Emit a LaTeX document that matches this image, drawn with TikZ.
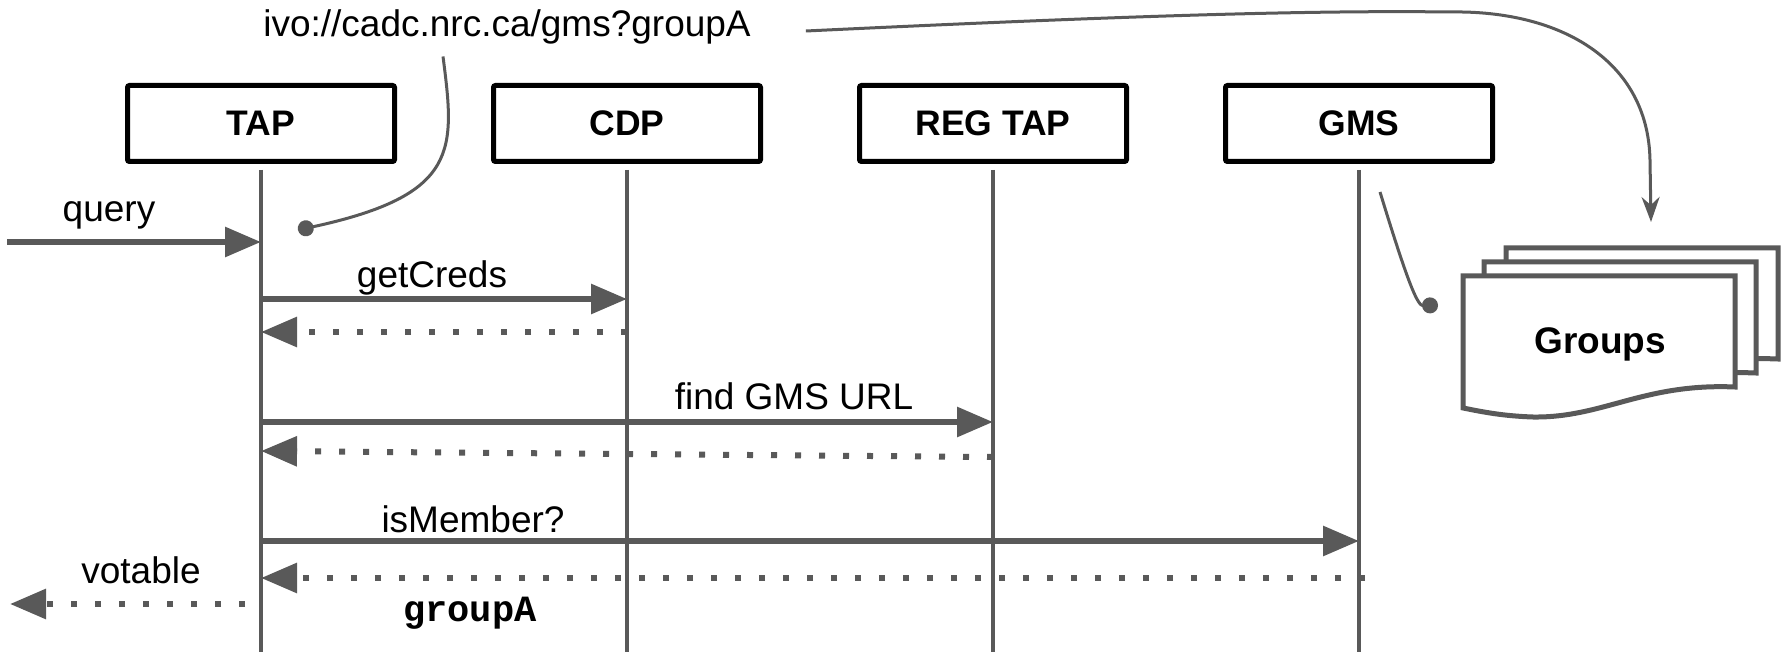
\documentclass[tikz,border=0pt]{standalone}
\usepackage{fontspec}
\setmainfont{Liberation Sans}
\setmonofont{Liberation Mono}
\usepackage{tikz}
\usetikzlibrary{arrows.meta,positioning,calc}
\definecolor{linegray}{HTML}{595959}
\tikzset{
         actor/.style={draw=black,line width=5pt,rounded corners=2pt,
                       minimum width=267pt,minimum height=76pt,
                       font=\fontsize{35.5}{40}\selectfont\bfseries},
         lifeline/.style={draw=linegray,line width=4.5pt},
         msg/.style={draw=linegray,line width=6pt,-{Triangle[length=36pt,width=29pt]}},
         reply/.style={draw=linegray,line width=6pt,dash pattern=on 6pt off 18pt,
                       -{Triangle[length=36pt,width=29pt]}},
         pinline/.style={draw=linegray,line width=3pt,-{Circle[length=16pt]}},
         bigarc/.style={draw=linegray,line width=3pt,-{Stealth[length=25pt,width=18pt]}},
         lbl/.style={font=\fontsize{37}{42}\selectfont,inner sep=0pt},
         docline/.style={draw=linegray,fill=white,line width=5pt},
         groupdoc/.pic={
          \draw[docline] (0,0) -- (272,0) -- (272,111)
             .. controls (180,107) and (140,142) .. (70,141)
             .. controls (40,140) and (20,136) .. (0,132) -- cycle;
         }
        }
\begin{document}
\begin{tikzpicture}[x=1pt,y=-1pt]
\useasboundingbox (0,0) rectangle (1783,652);

%actors along the top
\node[actor] (tap) at (261,123.5) {TAP};
\node[actor,right=94pt of tap] (cdp) {CDP};
\node[actor,right=94pt of cdp] (regtap) {REG TAP};
\node[actor,right=94pt of regtap] (gms) {GMS};

%lifelines run to the bottom edge
\coordinate (bottom) at (0,652);
\foreach \a in {tap,cdp,regtap,gms}
  \draw[lifeline] ([yshift=-6pt]\a.south) -- (\a |- bottom); %lifeline

%message rows
\coordinate (qrow) at (0,242);
\coordinate (credrow) at (0,299);
\coordinate (credback) at (0,332);
\coordinate (findrow) at (0,422);
\coordinate (findbackl) at (0,451);
\coordinate (findbackr) at (0,457);
\coordinate (memrow) at (0,541);
\coordinate (memback) at (0,578);
\coordinate (vrow) at (0,604);

\coordinate (qin) at (7,242); %query comes in
\coordinate (vout) at (10,604); %votable goes out
\draw[msg] (qin) -- (tap |- qrow); %query
\draw[msg] (tap |- credrow) -- (cdp |- credrow); %getCreds
\draw[reply] (cdp |- credback) -- (tap |- credback); %creds back
\draw[msg] (tap |- findrow) -- (regtap |- findrow); %find GMS URL
\draw[reply] (regtap |- findbackr) -- (tap |- findbackl); %URL back
\draw[msg] (tap |- memrow) -- (gms |- memrow); %isMember?
\draw[reply] ([xshift=6pt]gms |- memback) -- (tap |- memback); %groupA back
\draw[reply] ([xshift=-16pt]tap |- vrow) -- (vout); %votable

%labels
\node[lbl] (uri) at (507,27) {ivo://cadc.nrc.ca/gms?groupA};
\node[lbl] (lquery) at (109,215) {query};
\node[lbl] (lcreds) at (432,278) {getCreds};
\node[lbl] (lfind) at (794,396) {find GMS URL};
\node[lbl] (lmember) at (473,519) {isMember?};
\node[lbl] (lvotable) at (141,570) {votable};
\node[font=\fontsize{37}{42}\selectfont\ttfamily\bfseries,inner sep=0pt] (lgroup) at (470,613) {groupA};

%group documents
\pic at (1506,248) {groupdoc};
\pic at (1484,262) {groupdoc};
\pic at (1463,276) {groupdoc};
\node[font=\fontsize{37}{42}\selectfont\bfseries] (groups) at (1600,344) {Groups};

%callouts
\coordinate (uripin) at (298,230);
\coordinate (gmspin) at (1438,305);
\coordinate (grpin) at (1651,222);
\draw[pinline] ([xshift=-64pt,yshift=-12pt]uri.south) .. controls (455,150) and (460,195) .. (uripin); %uri to query
\draw[pinline] ([xshift=21pt,yshift=-28pt]gms.south) .. controls (1410,290) and (1418,306) .. (gmspin); %gms to groups
\draw[bigarc] ([xshift=55pt,yshift=-4pt]uri.east) .. controls (1100,17) and (1300,10) .. (1450,12)
   .. controls (1560,10) and (1648,60) .. (1650,160) -- (grpin); %uri names a group
\end{tikzpicture}
\end{document}
